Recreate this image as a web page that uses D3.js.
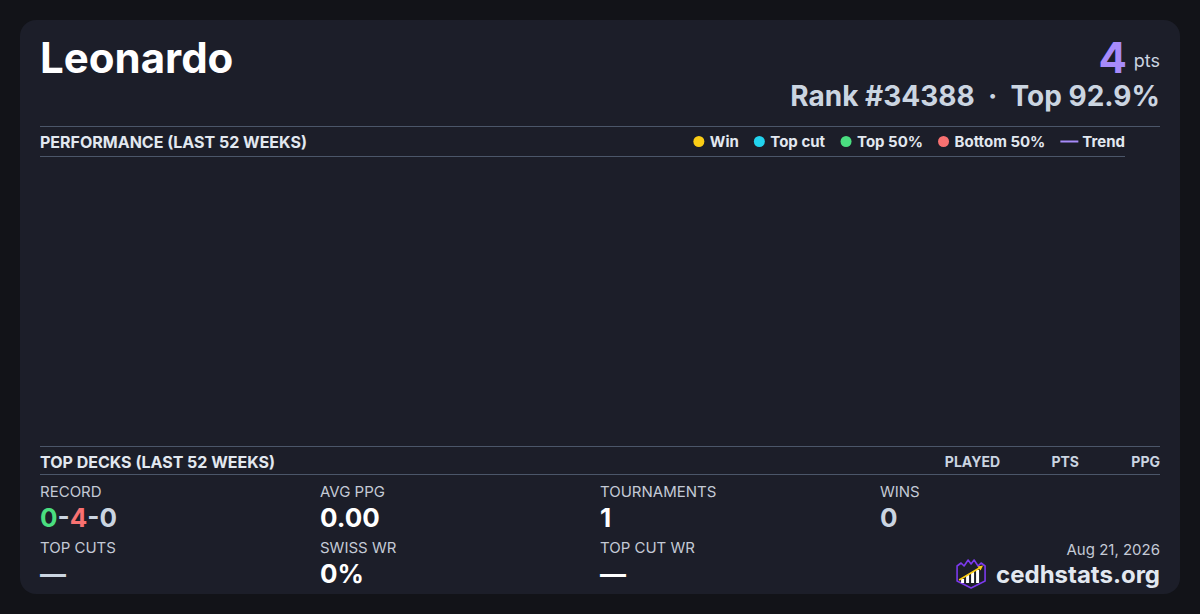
<!DOCTYPE html>
<html>
<head>
<meta charset="utf-8">
<script src="https://cdn.jsdelivr.net/npm/d3@7"></script>
<style>
  html, body { margin: 0; padding: 0; background: #121318; }
  svg { display: block; font-family: Inter, "Noto Sans", sans-serif; }
</style>
</head>
<body>
<div id="card"></div>
<script>
// --- Data ---
const playerName = "Leonardo";
const points = 4;
const rankText = "Rank #34388";
const topText = "Top 92.9%";
const legendLabels = ["Win", "Top cut", "Top 50%", "Bottom 50%", "Trend"];
const legendColors = ["#facc15", "#22d3ee", "#4ade80", "#f87171", "#a78bfa"];
const weeklyResults = []; // no tournaments plotted in the last 52 weeks
const deckHeaders = ["PLAYED", "PTS", "PPG"];
const statLabels = ["RECORD", "AVG PPG", "TOURNAMENTS", "WINS", "TOP CUTS", "SWISS WR", "TOP CUT WR"];
const statValues = ["0-4-0", "0.00", "1", "0", "—", "0%", "—"];
const recordParts = ["0", "-", "4", "-", "0"];
const recordColors = ["#4ade80", "#cbd5e1", "#f87171", "#cbd5e1", "#cbd5e1"];
const dateText = "Aug 21, 2026";
const siteText = "cedhstats.org";

document.addEventListener('DOMContentLoaded', () => {
    const W = 1200, H = 614;
    const svg = d3.select("#card").append("svg").attr("width", W).attr("height", H);

    svg.append("rect").attr("width", W).attr("height", H).attr("fill", "#121318");
    svg.append("rect")
        .attr("x", 20).attr("y", 20).attr("width", 1160).attr("height", 574)
        .attr("rx", 16).attr("fill", "#1c1e29");

    const left = 40, right = 1160;
    const ruleColor = "#4b5669";

    // --- Header ---
    svg.append("text").attr("x", left).attr("y", 73)
        .attr("font-size", 42).attr("font-weight", 700).attr("fill", "#ffffff")
        .text(playerName);

    svg.append("text").attr("x", right).attr("y", 67).attr("text-anchor", "end")
        .attr("font-size", 18).attr("fill", "#cbd5e1").text("pts");
    svg.append("text").attr("x", right - 33).attr("y", 73).attr("text-anchor", "end")
        .attr("font-size", 42).attr("font-weight", 700).attr("fill", "#a78bfa").text(points);

    svg.append("text").attr("x", right).attr("y", 106).attr("text-anchor", "end")
        .attr("font-size", 28).attr("font-weight", 700).attr("fill", "#cbd5e1")
        .attr("xml:space", "preserve")
        .text(`${rankText}  \u00b7  ${topText}`);

    // --- Performance section ---
    svg.append("line").attr("x1", left).attr("x2", right).attr("y1", 126.5).attr("y2", 126.5)
        .attr("stroke", ruleColor);
    svg.append("text").attr("x", left).attr("y", 148)
        .attr("font-size", 16).attr("font-weight", 700).attr("fill", "#e2e8f0")
        .text("PERFORMANCE (LAST 52 WEEKS)");

    const plotRight = 1125;
    svg.append("line").attr("x1", left).attr("x2", plotRight).attr("y1", 156.5).attr("y2", 156.5)
        .attr("stroke", ruleColor);

    // legend, laid out right-to-left from the plot edge
    const legend = svg.append("g");
    const items = legend.selectAll("g").data(legendLabels).join("g");
    items.append("text")
        .attr("font-size", 15).attr("font-weight", 700).attr("fill", "#e2e8f0")
        .attr("y", 147).text(d => d);
    let cursor = plotRight;
    const widths = [];
    items.each(function () { widths.push(this.getBBox().width); });
    for (let i = legendLabels.length - 1; i >= 0; i--) {
        const tx = cursor - widths[i];
        const g = d3.select(items.nodes()[i]);
        g.select("text").attr("x", tx);
        if (legendLabels[i] === "Trend") {
            g.append("line").attr("x1", tx - 22).attr("x2", tx - 4).attr("y1", 141.5).attr("y2", 141.5)
                .attr("stroke", legendColors[i]).attr("stroke-width", 2);
            cursor = tx - 22 - 15;
        } else {
            g.append("circle").attr("cx", tx - 11).attr("cy", 141.5).attr("r", 5.5)
                .attr("fill", legendColors[i]);
            cursor = tx - 16.5 - 15;
        }
    }

    // plot area (no results in window)
    const x = d3.scaleLinear().domain([0, 52]).range([left, plotRight]);
    const y = d3.scaleLinear().domain([0, 1]).range([436, 166]);
    svg.append("g").selectAll("circle").data(weeklyResults).join("circle")
        .attr("cx", d => x(d.week)).attr("cy", d => y(d.score)).attr("r", 5)
        .attr("fill", d => legendColors[d.cat]);

    // --- Top decks section ---
    svg.append("line").attr("x1", left).attr("x2", right).attr("y1", 446.5).attr("y2", 446.5)
        .attr("stroke", ruleColor);
    svg.append("text").attr("x", left).attr("y", 468)
        .attr("font-size", 16).attr("font-weight", 700).attr("fill", "#e2e8f0")
        .text("TOP DECKS (LAST 52 WEEKS)");
    const headerX = [1000, 1079, 1160];
    svg.selectAll(".dh").data(deckHeaders).join("text")
        .attr("x", (d, i) => headerX[i]).attr("y", 467).attr("text-anchor", "end")
        .attr("font-size", 14).attr("font-weight", 700).attr("fill", "#cbd5e1")
        .text(d => d);
    svg.append("line").attr("x1", left).attr("x2", right).attr("y1", 474.5).attr("y2", 474.5)
        .attr("stroke", ruleColor);

    // --- Stats grid ---
    const colX = [40, 320, 600, 880];
    const rowY = [497, 553];
    const valueColor = ["#fff", "#fff", "#fff", "#cbd5e1", "#cbd5e1", "#fff", "#fff"];
    statLabels.forEach((lab, i) => {
        const cx = colX[i % 4], ry = rowY[Math.floor(i / 4)];
        svg.append("text").attr("x", cx).attr("y", ry)
            .attr("font-size", 15).attr("fill", "#c4cad6").text(lab);
        const v = svg.append("text").attr("x", cx).attr("y", ry + 30)
            .attr("font-size", 26).attr("font-weight", 700).attr("fill", valueColor[i]);
        if (lab === "RECORD") {
            v.selectAll("tspan").data(recordParts).join("tspan")
                .attr("fill", (d, j) => recordColors[j]).text(d => d);
        } else {
            v.text(statValues[i]);
        }
    });

    // --- Footer ---
    svg.append("text").attr("x", right).attr("y", 555).attr("text-anchor", "end")
        .attr("font-size", 15).attr("fill", "#c4cad6").text(dateText);
    const site = svg.append("text").attr("x", right).attr("y", 583).attr("text-anchor", "end")
        .attr("font-size", 24).attr("font-weight", 700).attr("fill", "#e2e8f0").text(siteText);
    const siteLeft = site.node().getBBox().x;

    // logo: crowned shield with bars and rising arrow
    const logo = svg.append("g").attr("transform", `translate(${siteLeft - 40},559)`);
    logo.append("path")
        .attr("d", "M1,7 L5,4 L8,7 L12,1 L15,5 L18,1 L22,7 L25,4 L29,7 L29,22 L15,29 L1,22 Z")
        .attr("fill", "#1c1e29").attr("stroke", "#7c3aed").attr("stroke-width", 1.6)
        .attr("stroke-linejoin", "round");
    const barH = [4, 8, 11, 13];
    logo.selectAll(".bar").data(barH).join("rect")
        .attr("x", (d, i) => 5 + i * 5).attr("y", d => 24 - d)
        .attr("width", 3).attr("height", d => d).attr("fill", "#ffffff");
    logo.append("line").attr("x1", 3).attr("y1", 21).attr("x2", 25).attr("y2", 8)
        .attr("stroke", "#facc15").attr("stroke-width", 1.6);
    logo.append("path").attr("d", "M27,6.5 L21.5,7.5 L24.5,11.5 Z").attr("fill", "#facc15");
});
</script>
</body>
</html>
